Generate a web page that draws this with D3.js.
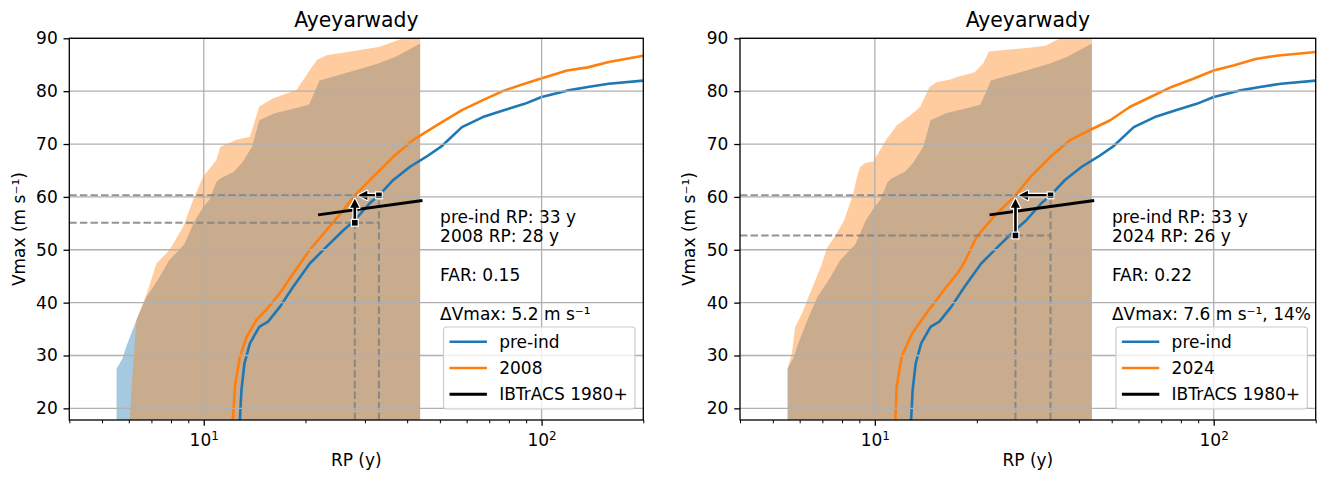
<!DOCTYPE html>
<html>
<head>
<meta charset="utf-8">
<script src="https://cdn.jsdelivr.net/npm/d3@7"></script>
<style>
  html, body { margin: 0; padding: 0; background: #fff; }
  svg text { font-family: "DejaVu Sans", sans-serif; fill: #000; }
</style>
</head>
<body>
<svg id="fig" width="1327" height="477"></svg>
<script>
// ---------------- data ----------------
const titleText = "Ayeyarwady";
const rpDomain = [4, 200];
const vmaxDomain = [17.8, 90];
const xMajorTicks = [10, 100];
const xMinorTicks = [4, 5, 6, 7, 8, 9, 20, 30, 40, 50, 60, 70, 80, 90, 200];
const yTicks = [20, 30, 40, 50, 60, 70, 80, 90];
const recordYears = 43.7;          // length of the observed record (right edge of the bands)

// pre-industrial return-period curve (shared by both panels)
const preIndRP = [12.7, 12.8, 12.93, 13.2, 13.7, 14.6, 15.5, 16.8, 18.4, 20.6, 23.1, 25.9, 28.0, 31.0, 33.0, 36.4, 40.8, 45.6, 50.4, 58.1, 67.0, 77.3, 89.1, 100, 118.8, 137, 158, 200];
const preIndV  = [17.0, 18.1, 23.5, 28.5, 32.3, 35.4, 36.4, 39.2, 43.0, 47.4, 50.6, 53.7, 55.6, 58.8, 60.3, 63.2, 65.7, 67.6, 69.5, 73.2, 75.1, 76.4, 77.6, 78.9, 80.1, 80.8, 81.4, 82.0];

// 2008 climate curve
const rp2008 = [12.05, 12.2, 12.4, 12.8, 13.4, 14.3, 15.3, 16.8, 18.4, 20.6, 23.1, 25.9, 28.0, 31.7, 36.4, 41.7, 50.0, 58.1, 67.0, 77.3, 89.0, 103, 119, 137, 158, 200];
const v2008  = [17.0, 18.1, 24.7, 29.8, 33.5, 36.7, 38.6, 41.8, 45.5, 50.0, 53.7, 57.5, 60.3, 63.8, 67.6, 70.8, 73.9, 76.4, 78.3, 80.1, 81.4, 82.7, 83.9, 84.5, 85.5, 86.7];

// 2024 climate curve
const rp2024 = [11.4, 11.5, 11.6, 12.0, 12.9, 14.2, 16.0, 17.5, 18.3, 20.0, 22.4, 26.0, 28.8, 33.0, 37.8, 43.3, 49.5, 56.5, 65.1, 75.1, 86.7, 100, 115, 133, 153, 200];
const v2024  = [17.0, 18.1, 24.1, 29.8, 34.2, 38.0, 42.4, 45.5, 47.4, 52.5, 56.2, 60.3, 63.8, 67.6, 70.8, 72.7, 74.5, 77.0, 78.9, 80.8, 82.3, 83.9, 84.9, 86.1, 86.7, 87.4];

// uncertainty bands: shortest return period reached for each Vmax
const preIndBandRP = [5.52, 5.52, 5.75, 5.92, 6.35, 6.76, 7.35, 7.9, 8.75, 9.4, 9.95, 10.4, 10.9, 11.2, 12.3, 13.0, 13.9, 14.6, 16.2, 18.8, 20.5, 21.5, 22.0, 25.0, 29.0, 33.0, 37.0, 43.7];
const preIndBandV  = [17.0, 27.5, 29.5, 32.0, 37.0, 41.0, 44.5, 48.0, 51.0, 55.5, 58.0, 59.5, 62.8, 63.5, 64.8, 66.5, 69.5, 74.5, 75.8, 76.8, 77.5, 80.5, 82.0, 83.0, 84.2, 85.3, 86.5, 89.0];

const band2008RP = [6.04, 6.04, 6.11, 6.32, 6.84, 7.24, 7.93, 8.7, 9.3, 9.95, 10.9, 11.2, 12.5, 13.7, 14.6, 16.0, 18.8, 21.6, 23.1, 29.0, 33.2, 38.9, 43.7];
const band2008V  = [17.0, 18.1, 23.5, 36.7, 42.4, 47.4, 50.0, 54.4, 59.4, 63.8, 67.0, 69.5, 70.8, 71.4, 77.1, 78.6, 80.2, 85.9, 86.8, 87.8, 88.4, 90.0, 91.5];

const band2024RP = [5.55, 5.55, 5.69, 5.82, 6.1, 6.44, 6.94, 7.22, 7.7, 8.13, 8.62, 8.9, 9.06, 9.37, 9.9, 10.5, 10.8, 11.6, 12.6, 13.6, 14.5, 15.2, 16.7, 17.5, 19.7, 20.9, 21.7, 24.0, 28.5, 31.9, 34.4, 36.0, 43.7];
const band2024V  = [17.0, 27.9, 30.4, 35.4, 38.0, 41.8, 46.9, 50.3, 53.0, 55.7, 60.5, 64.3, 65.7, 66.4, 66.7, 69.5, 70.8, 73.5, 75.2, 77.0, 80.8, 81.7, 82.2, 82.7, 83.6, 85.3, 87.5, 87.8, 88.2, 88.6, 89.7, 90.2, 91.5];

// observed IBTrACS 1980+ fit
const ibtracsRP = [21.8, 44.4];
const ibtracsV  = [56.6, 59.3];

// event attribution numbers
const eventVmax = 60.3;
const preIndEventRP = 33;
const scenarioYears = ["2008", "2024"];
const presentRP = [28, 26];
const farValues = [0.15, 0.22];
const deltaVmax = [5.2, 7.6];
const deltaVmaxPct = [null, 14];

// ---------------- layout ----------------
const BLUE = "#1f77b4", ORANGE = "#ff7f0e";
const FS = 17;
const axTop = 38.3, axBottom = 420;
const panelX = [[69.3, 643.3], [740, 1315.7]];

const svg = d3.select("#fig");
svg.append("rect").attr("width", 1327).attr("height", 477).attr("fill", "#fff");
const defs = svg.append("defs");

const panelData = [
  { year: scenarioYears[0], rp: rp2008, v: v2008, bandRP: band2008RP, bandV: band2008V },
  { year: scenarioYears[1], rp: rp2024, v: v2024, bandRP: band2024RP, bandV: band2024V }
];

function arrow(g, x1, y1, x2, y2) {
  const dx = x2 - x1, dy = y2 - y1, L = Math.hypot(dx, dy);
  const ux = dx / L, uy = dy / L;
  const shrink = 3.5, hl = 9, hw = 4.6;
  const tx = x2 - ux * shrink, ty = y2 - uy * shrink;
  const bx = tx - ux * hl, by = ty - uy * hl;
  const head = [[tx, ty], [bx - uy * hw, by + ux * hw], [bx + uy * hw, by - ux * hw]];
  const shaft = [[x1, y1], [bx + ux * 1, by + uy * 1]];
  const line = d3.line();
  // white halo
  g.append("path").attr("d", line(shaft)).attr("stroke", "#fff").attr("stroke-width", 5).attr("fill", "none");
  g.append("path").attr("d", line(head) + "Z").attr("fill", "#fff").attr("stroke", "#fff").attr("stroke-width", 2.4).attr("stroke-linejoin", "round");
  g.append("path").attr("d", line(shaft)).attr("stroke", "#000").attr("stroke-width", 2.6).attr("fill", "none");
  g.append("path").attr("d", line(head) + "Z").attr("fill", "#000");
}

panelData.forEach((pd, i) => {
  const [x0, x1] = panelX[i];
  const x = d3.scaleLog().domain(rpDomain).range([x0, x1]);
  const y = d3.scaleLinear().domain(vmaxDomain).range([axBottom, axTop]);
  const g = svg.append("g");

  const clipId = "plotclip" + i;
  defs.append("clipPath").attr("id", clipId).append("rect")
    .attr("x", x0).attr("y", axTop).attr("width", x1 - x0).attr("height", axBottom - axTop);
  const plot = g.append("g").attr("clip-path", `url(#${clipId})`);

  // uncertainty bands
  const band = d3.area().y(d => y(d[1])).x0(d => x(d[0])).x1(() => x(recordYears));
  plot.append("path").datum(d3.zip(preIndBandRP, preIndBandV)).attr("d", band)
    .attr("fill", BLUE).attr("fill-opacity", 0.4);
  plot.append("path").datum(d3.zip(pd.bandRP, pd.bandV)).attr("d", band)
    .attr("fill", ORANGE).attr("fill-opacity", 0.4);

  // grid
  const gridStyle = sel => sel.attr("stroke", "#b0b0b0").attr("stroke-width", 1.3);
  g.append("g").selectAll("line").data(xMajorTicks).join("line")
    .attr("x1", d => x(d)).attr("x2", d => x(d)).attr("y1", axTop).attr("y2", axBottom).call(gridStyle);
  g.append("g").selectAll("line").data(yTicks).join("line")
    .attr("x1", x0).attr("x2", x1).attr("y1", d => y(d)).attr("y2", d => y(d)).call(gridStyle);

  // return-period curves
  const curve = d3.line().x(d => x(d[0])).y(d => y(d[1]));
  plot.append("path").datum(d3.zip(preIndRP, preIndV)).attr("d", curve)
    .attr("fill", "none").attr("stroke", BLUE).attr("stroke-width", 2.6).attr("stroke-linejoin", "round");
  plot.append("path").datum(d3.zip(pd.rp, pd.v)).attr("d", curve)
    .attr("fill", "none").attr("stroke", ORANGE).attr("stroke-width", 2.6).attr("stroke-linejoin", "round");

  // attribution guide lines
  const rpNow = presentRP[i];
  const vLow = eventVmax - deltaVmax[i];
  const dash = sel => sel.attr("stroke", "#808080").attr("stroke-opacity", 0.85)
    .attr("stroke-width", 2).attr("stroke-dasharray", "7.4,3.2").attr("fill", "none");
  const guides = [
    [[rpDomain[0], eventVmax], [preIndEventRP, eventVmax]],
    [[rpDomain[0], vLow], [preIndEventRP, vLow]],
    [[rpNow, vmaxDomain[0]], [rpNow, vLow]],
    [[preIndEventRP, vmaxDomain[0]], [preIndEventRP, eventVmax]]
  ];
  guides.forEach(seg => plot.append("path").datum(seg).attr("d", curve).call(dash));

  // IBTrACS fit
  plot.append("path").datum(d3.zip(ibtracsRP, ibtracsV)).attr("d", curve)
    .attr("fill", "none").attr("stroke", "#000").attr("stroke-width", 3);

  // arrows and markers
  arrow(plot, x(preIndEventRP), y(eventVmax), x(rpNow), y(eventVmax));
  arrow(plot, x(rpNow), y(vLow), x(rpNow), y(eventVmax));
  [[preIndEventRP, eventVmax], [rpNow, vLow]].forEach(([r, v]) => {
    plot.append("rect").attr("x", x(r) - 3.4).attr("y", y(v) - 3.4).attr("width", 6.8).attr("height", 6.8)
      .attr("fill", "#000").attr("stroke", "#fff").attr("stroke-width", 1.2);
  });

  // axes
  const yAxis = d3.axisLeft(y).tickValues(yTicks).tickSize(5.8).tickPadding(5.8).tickFormat(d3.format("d"));
  const ya = g.append("g").attr("transform", `translate(${x0},0)`).call(yAxis);
  const xAxisMinor = d3.axisBottom(x).tickValues(xMinorTicks).tickSize(3.3).tickFormat("");
  const xm = g.append("g").attr("transform", `translate(0,${axBottom})`).call(xAxisMinor);
  const xAxis = d3.axisBottom(x).tickValues(xMajorTicks).tickSize(5.8).tickFormat("");
  const xa = g.append("g").attr("transform", `translate(0,${axBottom})`).call(xAxis);
  [ya, xm, xa].forEach(a => {
    a.select(".domain").remove();
    a.attr("font-family", null).attr("font-size", null);
    a.selectAll(".tick line").attr("stroke", "#000").attr("stroke-width", 1.3);
  });
  xm.selectAll(".tick line").attr("stroke-width", 1);
  ya.selectAll(".tick text").attr("font-size", FS).attr("fill", "#000");
  xa.selectAll(".tick").each(function (d) {
    const t = d3.select(this).select("text")
      .attr("y", 25.5).attr("dy", null).attr("font-size", FS).attr("fill", "#000").attr("text-anchor", "middle");
    t.text(null);
    t.append("tspan").text("10");
    t.append("tspan").attr("font-size", 12).attr("dy", -6).text(String(Math.round(Math.log10(d))));
  });

  // spines
  g.append("rect").attr("x", x0).attr("y", axTop).attr("width", x1 - x0).attr("height", axBottom - axTop)
    .attr("fill", "none").attr("stroke", "#000").attr("stroke-width", 1.3);

  // titles
  const cx = (x0 + x1) / 2;
  g.append("text").attr("x", cx).attr("y", 27).attr("text-anchor", "middle").attr("font-size", 20.4).text(titleText);
  g.append("text").attr("x", cx).attr("y", 466.4).attr("text-anchor", "middle").attr("font-size", FS).text("RP (y)");
  g.append("text").attr("transform", `translate(${x0 - 44.8},${(axTop + axBottom) / 2}) rotate(-90)`)
    .attr("text-anchor", "middle").attr("font-size", FS).text("Vmax (m s\u207B\u00B9)");

  // attribution text
  const fx = d3.scaleLinear().domain([0, 1]).range([x0, x1]);
  const tx = fx(0.646);
  const pct = deltaVmaxPct[i];
  const lines = [
    [`pre-ind RP: ${preIndEventRP} y`, 223.3],
    [`${pd.year} RP: ${rpNow} y`, 241.9],
    [`FAR: ${farValues[i].toFixed(2)}`, 281],
    [`\u0394Vmax: ${deltaVmax[i].toFixed(1)} m s\u207B\u00B9` + (pct !== null ? `, ${pct}%` : ""), 320]
  ];
  lines.forEach(([s, by]) => g.append("text").attr("x", tx).attr("y", by).attr("font-size", FS).text(s));

  // legend
  const lw = 191.5, lh = 82;
  const lx = x1 - 8.3 - lw, ly = 327;
  const lg = g.append("g");
  lg.append("rect").attr("x", lx).attr("y", ly).attr("width", lw).attr("height", lh).attr("rx", 3)
    .attr("fill", "#fff").attr("fill-opacity", 0.8).attr("stroke", "#cccccc").attr("stroke-width", 1.2);
  const entries = [["pre-ind", BLUE, 2.6], [pd.year, ORANGE, 2.6], ["IBTrACS 1980+", "#000", 3]];
  entries.forEach(([lab, col, w], k) => {
    const yy = ly + 14.7 + k * 26.3;
    lg.append("line").attr("x1", lx + 6).attr("x2", lx + 43.4).attr("y1", yy).attr("y2", yy)
      .attr("stroke", col).attr("stroke-width", w);
    lg.append("text").attr("x", lx + 55.7).attr("y", yy + 6).attr("font-size", FS).text(lab);
  });
});
</script>
</body>
</html>
